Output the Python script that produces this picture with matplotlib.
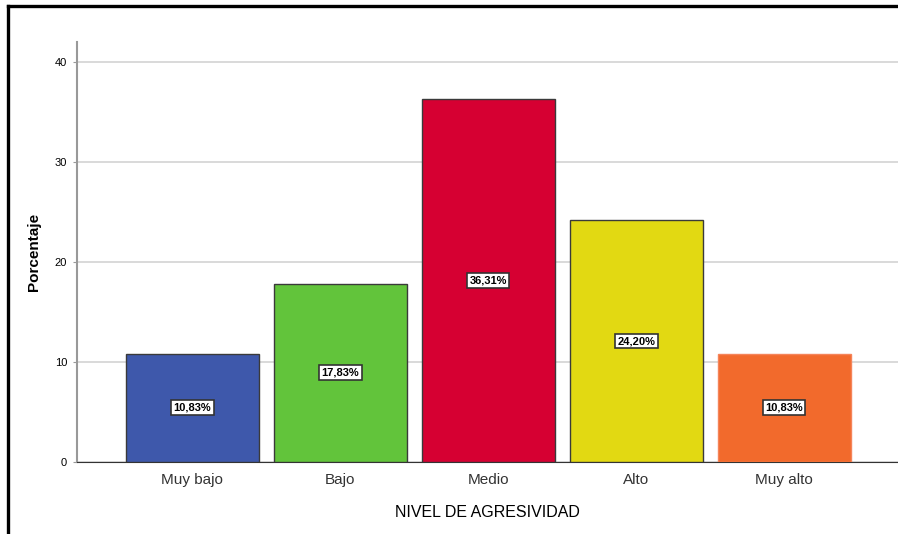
import matplotlib.pyplot as plt
from matplotlib.lines import Line2D

plt.rcParams['font.family'] = ['Liberation Sans', 'DejaVu Sans']

niveles = ["Muy bajo", "Bajo", "Medio", "Alto", "Muy alto"]
porcentajes = [10.83, 17.83, 36.31, 24.20, 10.83]
etiquetas = ["10,83%", "17,83%", "36,31%", "24,20%", "10,83%"]
colores = ["#3E58AB", "#62C43B", "#D60032", "#E2D912", "#F26A2C"]

fig = plt.figure(figsize=(8.98, 5.34), dpi=100)
ax = fig.add_axes([0.0857, 0.1348, 0.9143, 0.7865])

x = range(len(niveles))
bars = ax.bar(x, porcentajes, width=0.9, color=colores, edgecolor="#3a3a3a",
              linewidth=1.0, zorder=3)
bars[4].set_edgecolor("#F5845A")

for i, b in enumerate(bars):
    h = b.get_height()
    ax.text(b.get_x() + b.get_width() / 2, h / 2, etiquetas[i], ha="center",
            va="center", fontsize=8, fontweight="bold", zorder=4,
            bbox=dict(boxstyle="square,pad=0.22", fc="white", ec="#333333", lw=1.2))

ax.set_xlim(-0.78, 4.77)
ax.set_ylim(0, 42)
ax.set_yticks([0, 10, 20, 30, 40])
ax.yaxis.grid(True, color="#D3D3D3", linewidth=1.2, zorder=0)
ax.set_axisbelow(True)

ax.set_xticks(list(x))
ax.set_xticklabels(niveles, fontsize=11, color="#333333")
ax.tick_params(axis="x", length=0, pad=8)
ax.tick_params(axis="y", labelsize=8, length=3, color="#999999", pad=4)

for s in ["top", "right"]:
    ax.spines[s].set_visible(False)
ax.spines["left"].set_color("#999999")
ax.spines["left"].set_linewidth(1.5)
ax.spines["bottom"].set_color("#333333")

ax.set_xlabel("NIVEL DE AGRESIVIDAD", fontsize=11.5, labelpad=13)
ax.set_ylabel("Porcentaje", fontsize=11, fontweight="bold", labelpad=10)

# black frame around the picture (top and left edges visible)
fig.add_artist(Line2D([0.0089, 1.0], [0.9888, 0.9888], color="black", lw=2.4,
                      transform=fig.transFigure))
fig.add_artist(Line2D([0.0089, 0.0089], [0.0, 0.9888], color="black", lw=2.4,
                      transform=fig.transFigure))

fig.savefig("out.png", dpi=100)
